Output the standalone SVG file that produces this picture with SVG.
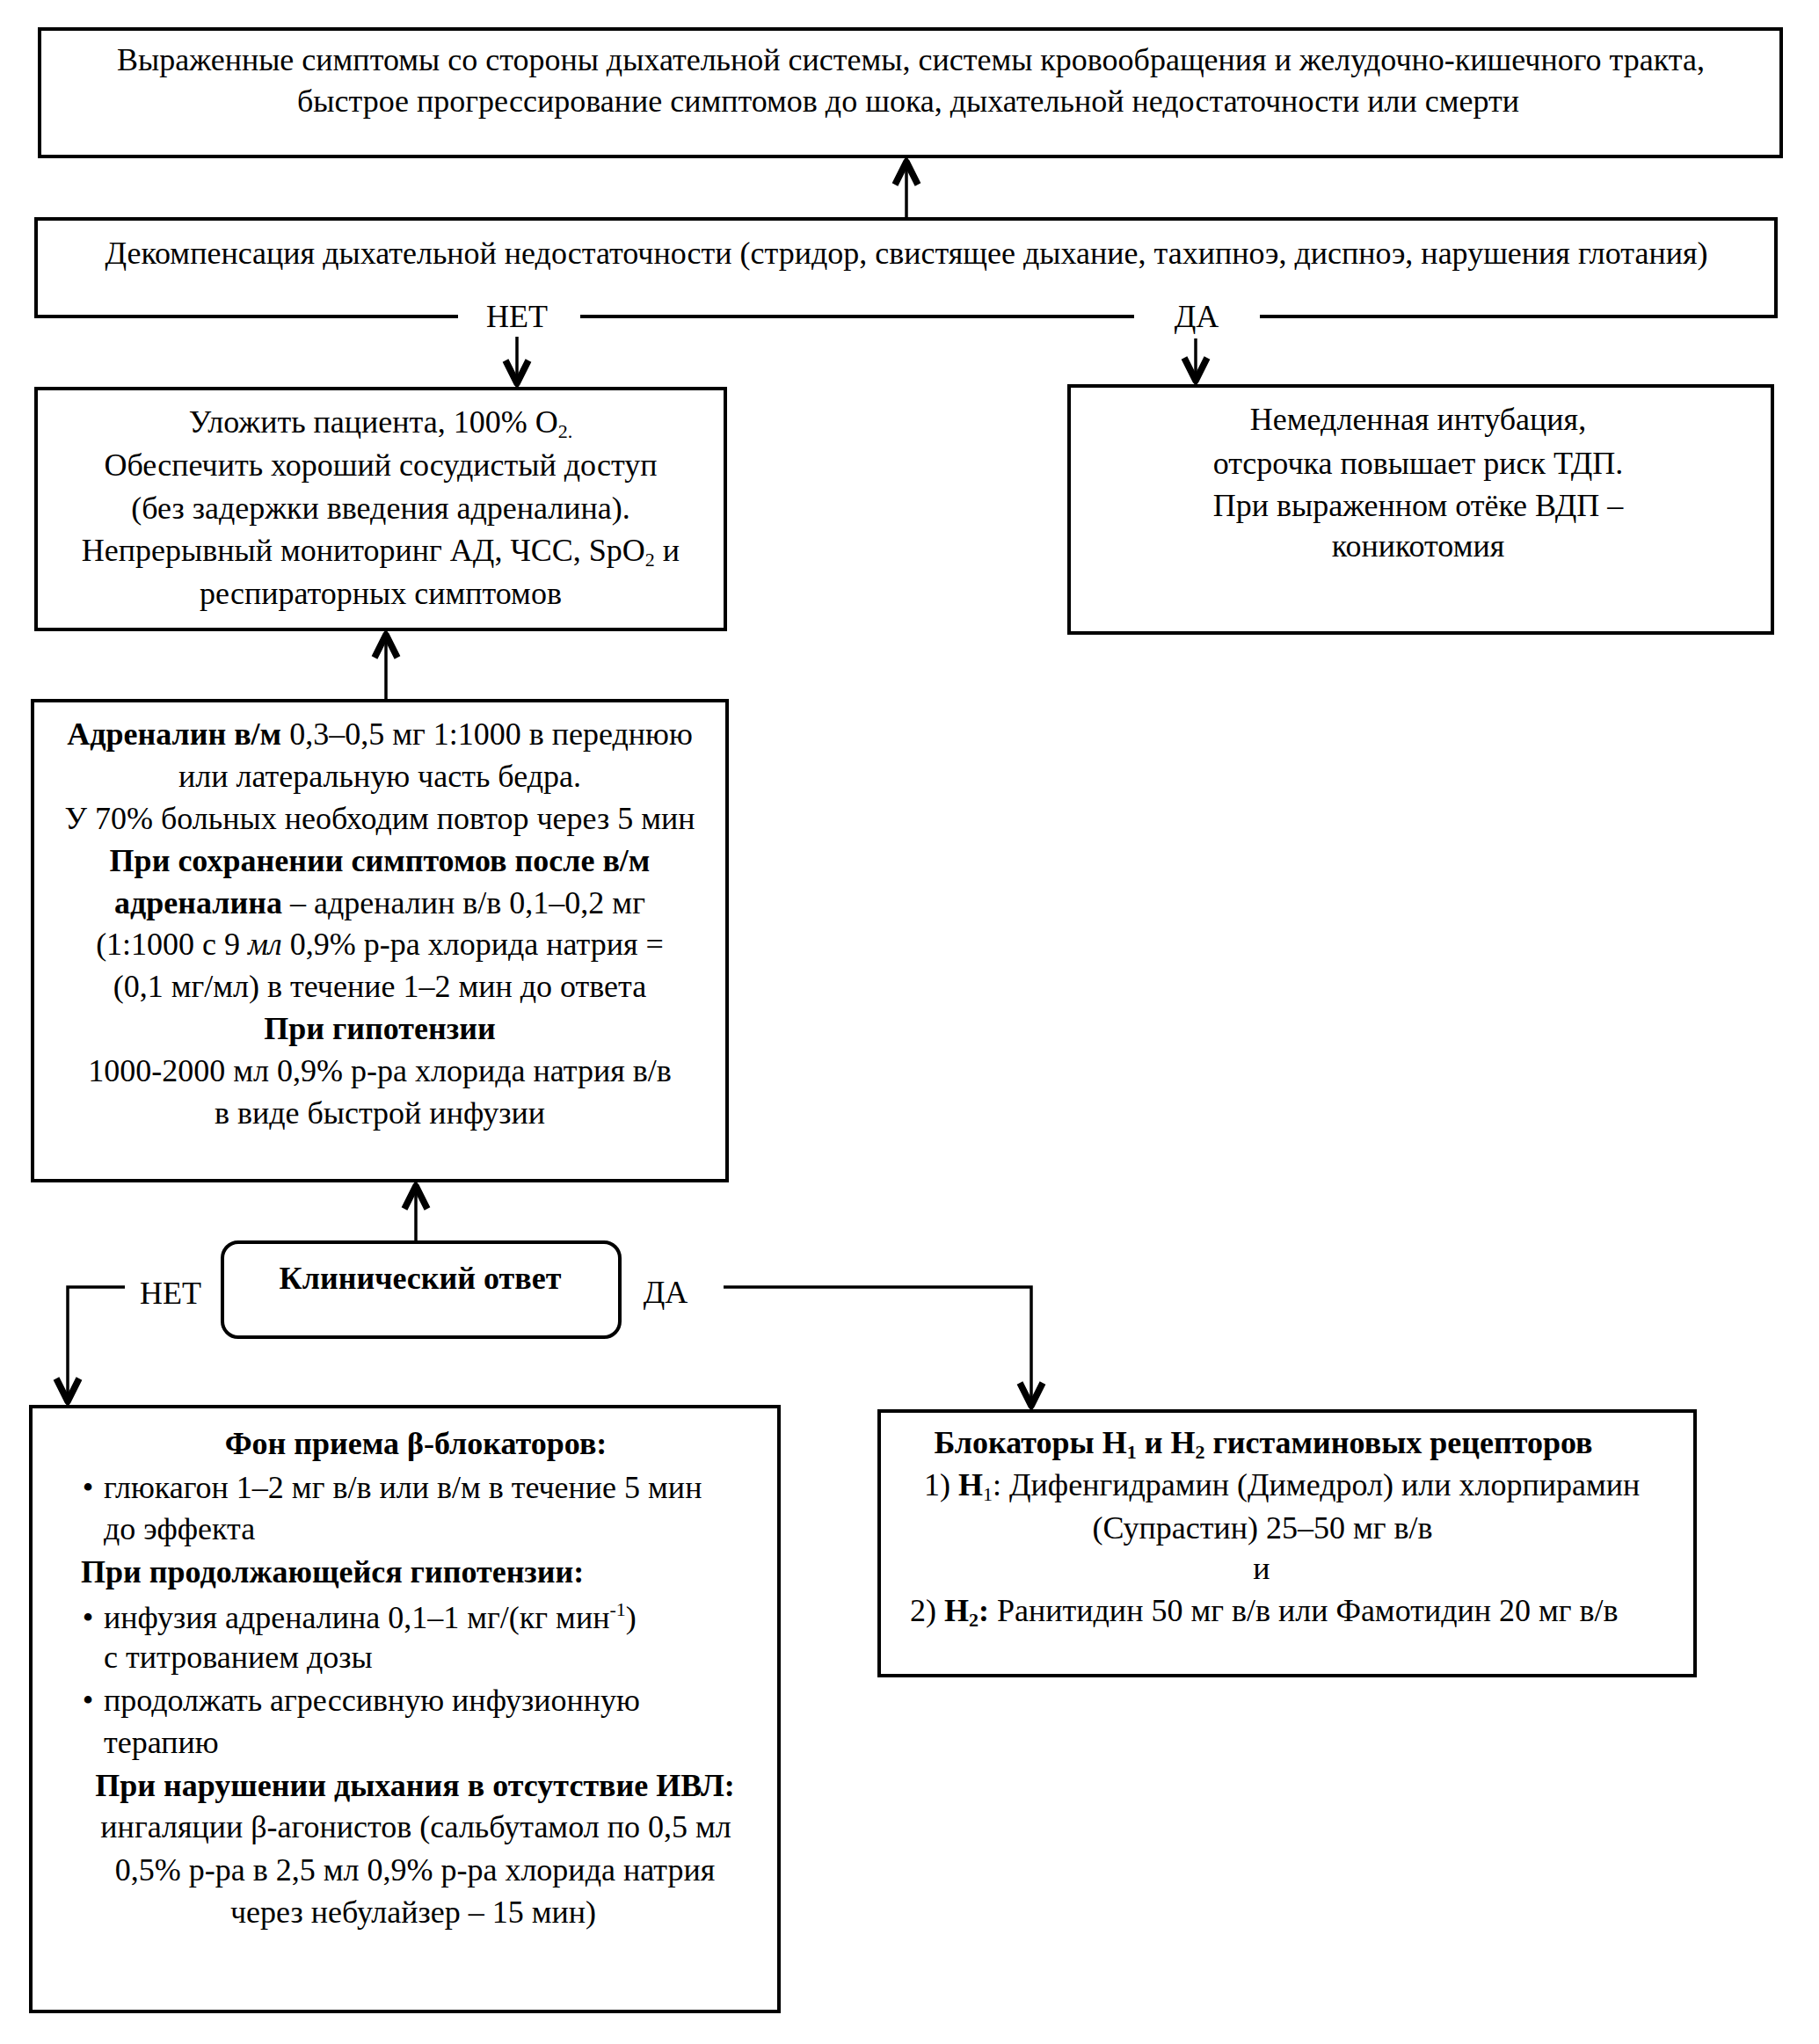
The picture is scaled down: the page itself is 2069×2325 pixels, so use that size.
<svg xmlns="http://www.w3.org/2000/svg" width="2069" height="2325" viewBox="0 0 2069 2325">
<style>
text { font-family: "Liberation Serif", "Times New Roman", serif; font-size: 36px; fill: #000; }
.c { text-anchor: middle; }
.b { font-weight: bold; }
.i { font-style: italic; }
.box { fill: #fff; stroke: #000; stroke-width: 4; }
.ln { fill: none; stroke: #000; stroke-width: 3.5; }
.s { font-size: 22px; }
</style>
<defs>
<marker id="ah" markerUnits="userSpaceOnUse" viewBox="-40 -20 44 40" markerWidth="44" markerHeight="40" refX="0" refY="0" orient="auto" overflow="visible">
<path d="M -30 -13 L -4 0 L -30 13" fill="none" stroke="#000" stroke-width="7.5" stroke-linejoin="round"/>
</marker>
</defs>
<rect x="0" y="0" width="2069" height="2325" fill="#fff"/>

<g id="connectors">
<line class="ln" x1="1031" y1="249" x2="1031" y2="180" marker-end="url(#ah)"/>
<line class="ln" x1="588" y1="383" x2="588" y2="440" marker-end="url(#ah)"/>
<line class="ln" x1="1360" y1="385" x2="1360" y2="437" marker-end="url(#ah)"/>
<line class="ln" x1="439" y1="797" x2="439" y2="718" marker-end="url(#ah)"/>
<line class="ln" x1="473" y1="1413" x2="473" y2="1345" marker-end="url(#ah)"/>
<path class="ln" d="M 142 1464 L 77 1464 L 77 1598" marker-end="url(#ah)"/>
<path class="ln" d="M 823 1464 L 1173 1464 L 1173 1603" marker-end="url(#ah)"/>
<text class="c" x="194" y="1483">НЕТ</text>
<text class="c" x="757" y="1482">ДА</text>
</g>

<g id="n1">
<rect class="box" x="45" y="33" width="1981" height="145"/>
<text class="c" x="1036" y="80">Выраженные симптомы со стороны дыхательной системы, системы кровообращения и желудочно-кишечного тракта,</text>
<text class="c" x="1033" y="127">быстрое прогрессирование симптомов до шока, дыхательной недостаточности или смерти</text>
</g>

<g id="n2">
<path d="M 521 360 L 41 360 L 41 249 L 2020 249 L 2020 360 L 1433 360 M 660 360 L 1290 360" fill="#fff" stroke="#000" stroke-width="4"/>
<text class="c" x="1031" y="300">Декомпенсация дыхательной недостаточности (стридор, свистящее дыхание, тахипноэ, диспноэ, нарушения глотания)</text>
<text class="c" x="588" y="372">НЕТ</text>
<text class="c" x="1361" y="372">ДА</text>
</g>

<g id="n3">
<rect class="box" x="41" y="442" width="784" height="274"/>
<text class="c" x="433" y="492">Уложить пациента, 100% O<tspan class="s" dy="6">2.</tspan></text>
<text class="c" x="433" y="541">Обеспечить хороший сосудистый доступ</text>
<text class="c" x="433" y="590">(без задержки введения адреналина).</text>
<text class="c" x="433" y="638">Непрерывный мониторинг АД, ЧСС, SpO<tspan class="s" dy="6">2</tspan><tspan dy="-6"> и</tspan></text>
<text class="c" x="433" y="687">респираторных симптомов</text>
</g>

<g id="n4">
<rect class="box" x="1216" y="439" width="800" height="281"/>
<text class="c" x="1613" y="489">Немедленная интубация,</text>
<text class="c" x="1613" y="539">отсрочка повышает риск ТДП.</text>
<text class="c" x="1613" y="587">При выраженном отёке ВДП –</text>
<text class="c" x="1613" y="633">коникотомия</text>
</g>

<g id="n5">
<rect class="box" x="37" y="797" width="790" height="546"/>
<text class="c" x="432" y="847"><tspan class="b">Адреналин в/м</tspan> 0,3–0,5 мг 1:1000 в переднюю</text>
<text class="c" x="432" y="895">или латеральную часть бедра.</text>
<text class="c" x="432" y="943">У 70% больных необходим повтор через 5 мин</text>
<text class="c b" x="432" y="991">При сохранении симптомов после в/м</text>
<text class="c" x="432" y="1039"><tspan class="b">адреналина</tspan> – адреналин в/в 0,1–0,2 мг</text>
<text class="c" x="432" y="1086">(1:1000 с 9 <tspan class="i">мл</tspan> 0,9% р-ра хлорида натрия =</text>
<text class="c" x="432" y="1134">(0,1 мг/мл) в течение 1–2 мин до ответа</text>
<text class="c b" x="432" y="1182">При гипотензии</text>
<text class="c" x="432" y="1230">1000-2000 мл 0,9% р-ра хлорида натрия в/в</text>
<text class="c" x="432" y="1278">в виде быстрой инфузии</text>
</g>

<g id="n6">
<rect class="box" x="253" y="1413" width="452" height="108" rx="18" ry="18"/>
<text class="c b" x="478" y="1466">Клинический ответ</text>
</g>

<g id="n7">
<rect class="box" x="35" y="1600" width="851" height="688"/>
<text class="c b" x="473" y="1654">Фон приема β-блокаторов:</text>
<text class="c" x="100" y="1704">•</text>
<text x="118" y="1704">глюкагон 1–2 мг в/в или в/м в течение 5 мин</text>
<text x="118" y="1751">до эффекта</text>
<text class="b" x="92" y="1800">При продолжающейся гипотензии:</text>
<text class="c" x="100" y="1852">•</text>
<text x="118" y="1852">инфузия адреналина 0,1–1 мг/(кг мин<tspan class="s" dy="-14">-1</tspan><tspan dy="14">)</tspan></text>
<text x="118" y="1897">с титрованием дозы</text>
<text class="c" x="100" y="1946">•</text>
<text x="118" y="1946">продолжать агрессивную инфузионную</text>
<text x="118" y="1994">терапию</text>
<text class="c b" x="472" y="2043">При нарушении дыхания в отсутствие ИВЛ:</text>
<text class="c" x="473" y="2090">ингаляции β-агонистов (сальбутамол по 0,5 мл</text>
<text class="c" x="472" y="2139">0,5% р-ра в 2,5 мл 0,9% р-ра хлорида натрия</text>
<text class="c" x="470" y="2187">через небулайзер – 15 мин)</text>
</g>

<g id="n8">
<rect class="box" x="1000" y="1605" width="928" height="301"/>
<text class="c b" x="1437" y="1653">Блокаторы H<tspan class="s" dy="6">1</tspan><tspan dy="-6"> и H</tspan><tspan class="s" dy="6">2</tspan><tspan dy="-6"> гистаминовых рецепторов</tspan></text>
<text x="1051" y="1701">1) <tspan class="b">H</tspan><tspan class="s" dy="6">1</tspan><tspan dy="-6">: Дифенгидрамин (Димедрол) или хлорпирамин</tspan></text>
<text class="c" x="1436" y="1750">(Супрастин) 25–50 мг в/в</text>
<text class="c" x="1435" y="1796">и</text>
<text x="1035" y="1844">2) <tspan class="b">H</tspan><tspan class="s b" dy="6">2</tspan><tspan class="b" dy="-6">:</tspan>  Ранитидин 50 мг в/в или Фамотидин 20 мг в/в</text>
</g>
</svg>
